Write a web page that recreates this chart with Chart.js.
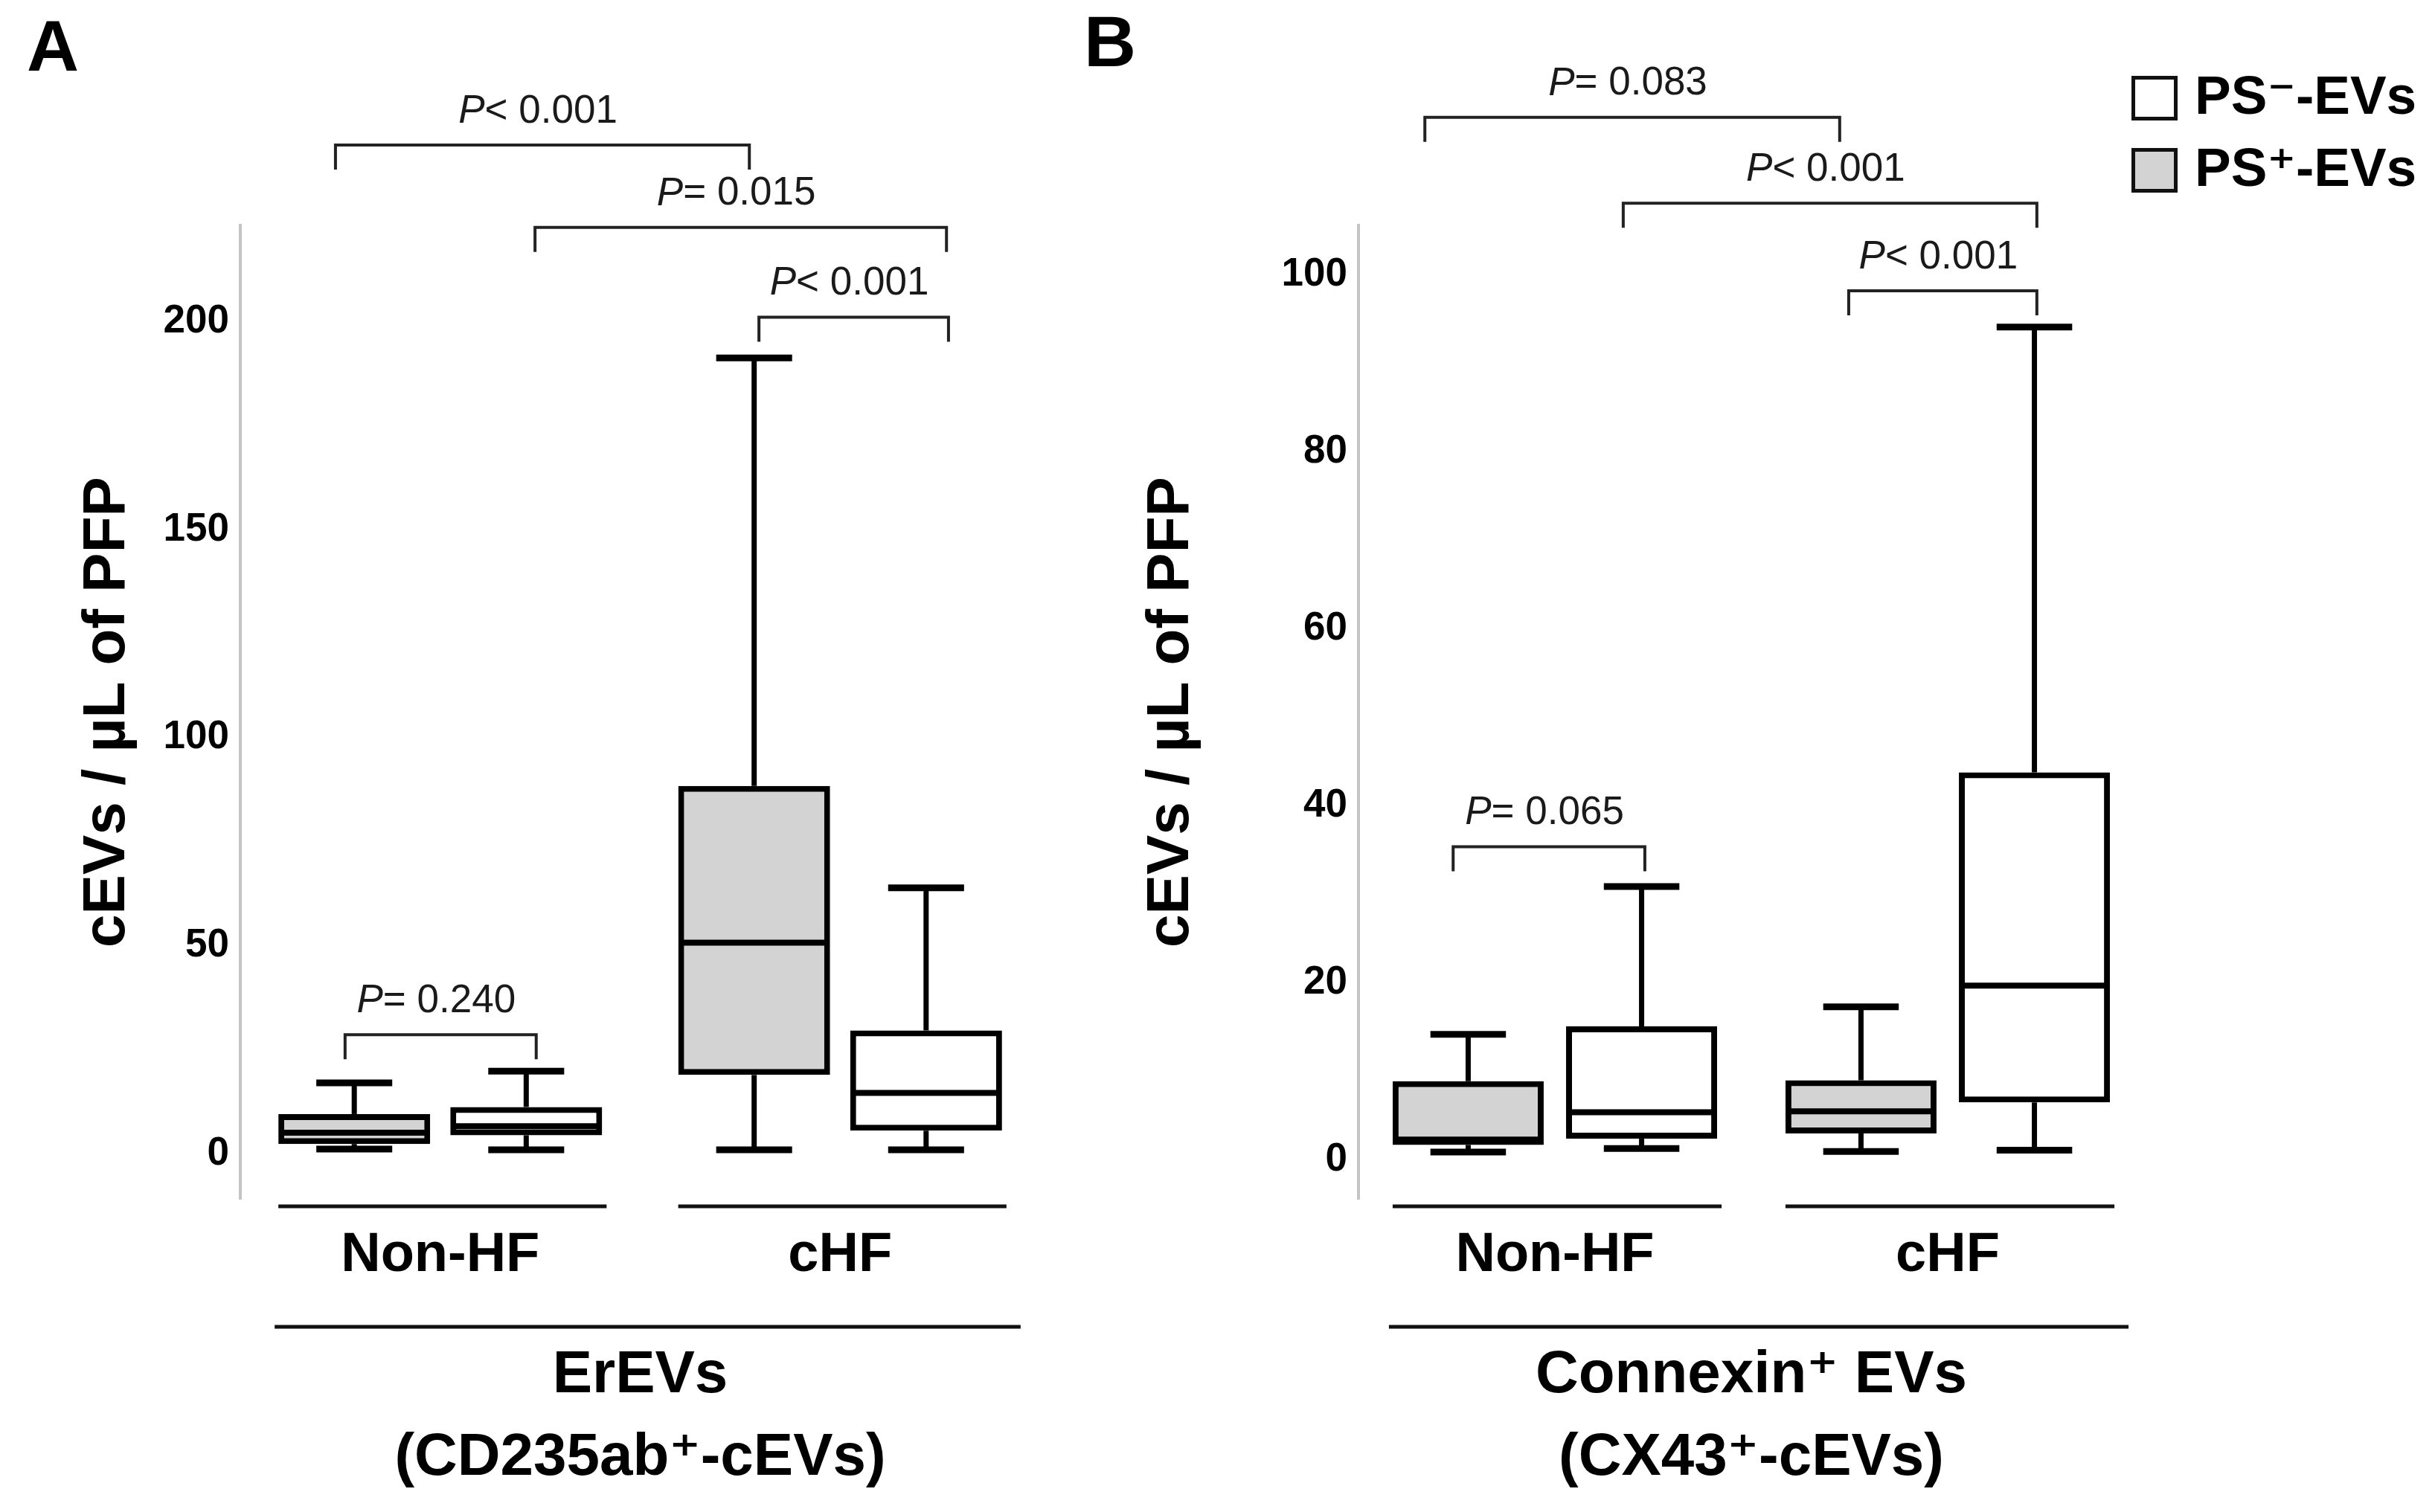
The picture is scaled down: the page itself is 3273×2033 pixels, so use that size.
<!DOCTYPE html>
<html><head><meta charset="utf-8">
<script src="https://cdn.jsdelivr.net/npm/chart.js@4.4.0/dist/chart.umd.min.js"></script>
<style>
html,body{margin:0;padding:0;background:#fff;}
#wrap{position:relative;width:3273px;height:2033px;background:#fff;}
canvas{position:absolute;left:0;top:0;}
</style></head><body>
<div id="wrap"><canvas id="cA" width="3273" height="2033"></canvas><canvas id="cB" width="3273" height="2033"></canvas></div>
<script>
// ---------------- DATA ----------------
const categories = ['Non-HF', 'cHF'];
const seriesNames = ['PS⁺-EVs', 'PS⁻-EVs'];

// Panel A: ErEVs (CD235ab+-cEVs)   [Non-HF, cHF]
const erPosMin = [1.1, 0.9];
const erPosQ1  = [2.3, 18.9];
const erPosMed = [5.0, 50.7];
const erPosQ3  = [9.5, 88.4];
const erPosMax = [17.0, 191.3];
const erNegMin = [0.9, 0.9];
const erNegQ1  = [4.4, 5.5];
const erNegMed = [6.6, 14.6];
const erNegQ3  = [11.2, 29.6];
const erNegMax = [19.8, 63.9];

// Panel B: Connexin+ EVs (CX43+-cEVs)   [Non-HF, cHF]
const cxPosMin = [0.9, 0.95];
const cxPosQ1  = [1.7, 3.0];
const cxPosMed = [2.3, 5.5];
const cxPosQ3  = [8.9, 9.0];
const cxPosMax = [14.2, 17.3];
const cxNegMin = [1.3, 1.1];
const cxNegQ1  = [2.4, 6.5];
const cxNegMed = [5.4, 19.7];
const cxNegQ3  = [15.1, 43.8];
const cxNegMax = [30.9, 94.1];

const yTicksA = [0, 50, 100, 150, 200];
const yTicksB = [0, 20, 40, 60, 80, 100];

// significance brackets (x in category units, level in y units)
const bracketLabelsA = ['< 0.001', '= 0.015', '< 0.001', '= 0.240'];
const bracketFromA   = [-0.262, 0.237, 0.797, -0.238];
const bracketToA     = [0.773, 1.266, 1.271, 0.240];
const bracketLevelA  = [242.5, 222.7, 201.1, 28.6];

const bracketLabelsB = ['= 0.083', '< 0.001', '< 0.001', '= 0.065'];
const bracketFromB   = [-0.331, 0.174, 0.748, -0.259];
const bracketToB     = [0.725, 1.227, 1.227, 0.229];
const bracketLevelB  = [117.8, 108.1, 98.2, 35.4];

// ---------------- STYLE / RENDER ----------------
const FAM = "'Liberation Sans', Arial, 'DejaVu Sans', sans-serif";
Chart.defaults.font.family = FAM;
Chart.defaults.color = '#000';
const GRAY = '#d3d3d3';

function mkDataset(label, fill, mins, q1, med, q3, maxs) {
  return {
    label: label,
    data: q1.map((v, i) => [v, q3[i]]),
    backgroundColor: fill,
    borderColor: '#000',
    borderWidth: 8,
    borderSkipped: false,
    stats: {min: mins, q1: q1, med: med, q3: q3, max: maxs}
  };
}

function line(ctx, x1, y1, x2, y2) { ctx.beginPath(); ctx.moveTo(x1, y1); ctx.lineTo(x2, y2); ctx.stroke(); }

const boxPlugin = {
  id: 'boxExtras',
  afterDatasetsDraw(chart) {
    const ctx = chart.ctx, ys = chart.scales.y;
    ctx.save();
    ctx.strokeStyle = '#000';
    ctx.lineCap = 'butt';
    chart.data.datasets.forEach((ds, i) => {
      const meta = chart.getDatasetMeta(i);
      meta.data.forEach((bar, j) => {
        const s = ds.stats, x = bar.x, w = bar.width;
        const pMin = ys.getPixelForValue(s.min[j]), pQ1 = ys.getPixelForValue(s.q1[j]);
        const pMed = ys.getPixelForValue(s.med[j]), pQ3 = ys.getPixelForValue(s.q3[j]);
        const pMax = ys.getPixelForValue(s.max[j]);
        ctx.lineWidth = 7;
        line(ctx, x, pQ3, x, pMax);
        line(ctx, x, pQ1, x, pMin);
        ctx.lineWidth = 9;
        line(ctx, x - w * 0.25, pMax, x + w * 0.25, pMax);
        line(ctx, x - w * 0.25, pMin, x + w * 0.25, pMin);
        ctx.lineWidth = 8;
        line(ctx, x - w / 2 + 2, pMed, x + w / 2 - 2, pMed);
      });
    });
    ctx.restore();
  }
};

function decoPlugin(cfg) {
  return {
    id: 'deco' + cfg.letter,
    afterDraw(chart) {
      const ctx = chart.ctx, xs = chart.scales.x, ys = chart.scales.y;
      ctx.save();
      // panel letter
      ctx.fillStyle = '#000';
      ctx.font = 'bold 97px ' + FAM;
      ctx.textBaseline = 'alphabetic';
      ctx.textAlign = 'left';
      ctx.fillText(cfg.letter, cfg.letterX, cfg.letterY);

      // group lines under boxes
      const metas = chart.data.datasets.map((d, i) => chart.getDatasetMeta(i));
      ctx.strokeStyle = '#111';
      ctx.lineWidth = 5;
      let gl = Infinity, gr = -Infinity;
      categories.forEach((c, j) => {
        let l = Infinity, r = -Infinity;
        metas.forEach(m => { const b = m.data[j]; l = Math.min(l, b.x - b.width / 2); r = Math.max(r, b.x + b.width / 2); });
        gl = Math.min(gl, l); gr = Math.max(gr, r);
        line(ctx, l, xs.top + 10, r + 6, xs.top + 10);
      });
      line(ctx, gl - 5, xs.top + 172, gr + 25, xs.top + 172);

      // brackets
      ctx.strokeStyle = '#222';
      ctx.lineWidth = 4;
      ctx.lineJoin = 'miter';
      cfg.labels.forEach((lab, k) => {
        const x1 = xs.getPixelForValue(cfg.from[k]);
        const x2 = xs.getPixelForValue(cfg.to[k]);
        const yy = ys.getPixelForValue(cfg.level[k]);
        ctx.beginPath();
        ctx.moveTo(x1, yy + 33); ctx.lineTo(x1, yy); ctx.lineTo(x2, yy); ctx.lineTo(x2, yy + 33);
        ctx.stroke();
        const fItal = 'italic 53px ' + FAM, fReg = '53px ' + FAM;
        ctx.font = fItal; const wP = ctx.measureText('P').width;
        ctx.font = fReg; const wR = ctx.measureText(lab).width;
        const cx = (x1 + x2) / 2 - 6, ty = yy - 45;
        const sx = cx - (wP + wR) / 2;
        ctx.fillStyle = '#1a1a1a';
        ctx.textBaseline = 'middle';
        ctx.font = fItal; ctx.fillText('P', sx, ty);
        ctx.font = fReg; ctx.fillText(lab, sx + wP, ty);
      });

      // legend
      if (cfg.legend) {
        const items = chart.data.datasets.slice().reverse();
        items.forEach((ds, k) => {
          const top = 102 + k * 97;
          ctx.fillStyle = ds.backgroundColor;
          ctx.fillRect(2865, top, 62, 60);
          ctx.strokeStyle = '#111';
          ctx.lineWidth = 5;
          ctx.strokeRect(2867.5, top + 2.5, 57, 55);
          ctx.fillStyle = '#000';
          ctx.font = 'bold 73px ' + FAM;
          ctx.textBaseline = 'middle';
          ctx.fillText(ds.label, 2950, top + 31);
        });
      }
      ctx.restore();
    }
  };
}

function makeChart(id, cfg) {
  return new Chart(document.getElementById(id), {
    type: 'bar',
    data: {
      labels: categories,
      datasets: cfg.datasets
    },
    options: {
      responsive: false,
      animation: false,
      events: [],
      layout: {padding: {left: 0, top: 303, right: 3273 - cfg.right, bottom: 0}},
      plugins: {legend: {display: false}, tooltip: {enabled: false}},
      datasets: {bar: {categoryPercentage: cfg.catPct, barPercentage: cfg.barPct}},
      scales: {
        x: {
          type: 'category',
          grid: {display: false, drawTicks: false},
          border: {display: false},
          ticks: {font: {size: 74, weight: 'bold'}, color: '#000', padding: 32, maxRotation: 0},
          title: {display: true, text: cfg.xTitle, color: '#000',
                  font: {size: 80, weight: 'bold', lineHeight: 1.39}, padding: {top: 0, bottom: 16}},
          afterFit: s => { s.height = 421; }
        },
        y: {
          min: cfg.yMin, max: cfg.yMax,
          grid: {display: false, drawTicks: false},
          border: {display: true, color: '#c4c4c4', width: 4},
          ticks: {font: {size: 53, weight: 'bold'}, color: '#000', padding: 15},
          afterBuildTicks: s => { s.ticks = cfg.yTicks.map(v => ({value: v})); },
          title: {display: true, text: 'cEVs / µL of PFP', color: '#000',
                  font: {size: 80, weight: 'bold'}, padding: {top: cfg.yTitlePad, bottom: 0}},
          afterFit: s => { s.width = cfg.left; }
        }
      }
    },
    plugins: [boxPlugin, decoPlugin(cfg.deco)]
  });
}

makeChart('cA', {
  datasets: [
    mkDataset(seriesNames[0], GRAY, erPosMin, erPosQ1, erPosMed, erPosQ3, erPosMax),
    mkDataset(seriesNames[1], '#ffffff', erNegMin, erNegQ1, erNegMed, erNegQ3, erNegMax)
  ],
  left: 323, right: 1398, catPct: 0.86, barPct: 0.883,
  yMin: -10.9, yMax: 223.2, yTicks: yTicksA, yTitlePad: 97,
  xTitle: ['ErEVs', '(CD235ab⁺-cEVs)'],
  deco: {letter: 'A', letterX: 36, letterY: 95, legend: false,
         labels: bracketLabelsA, from: bracketFromA, to: bracketToA, level: bracketLevelA}
});

makeChart('cB', {
  datasets: [
    mkDataset(seriesNames[0], GRAY, cxPosMin, cxPosQ1, cxPosMed, cxPosQ3, cxPosMax),
    mkDataset(seriesNames[1], '#ffffff', cxNegMin, cxNegQ1, cxNegMed, cxNegQ3, cxNegMax)
  ],
  left: 1826, right: 2882, catPct: 0.883, barPct: 0.871,
  yMin: -4.4, yMax: 105.6, yTicks: yTicksB, yTitlePad: 1527,
  xTitle: ['Connexin⁺ EVs', '(CX43⁺-cEVs)'],
  deco: {letter: 'B', letterX: 1457, letterY: 89, legend: true,
         labels: bracketLabelsB, from: bracketFromB, to: bracketToB, level: bracketLevelB}
});
</script>
</body></html>
